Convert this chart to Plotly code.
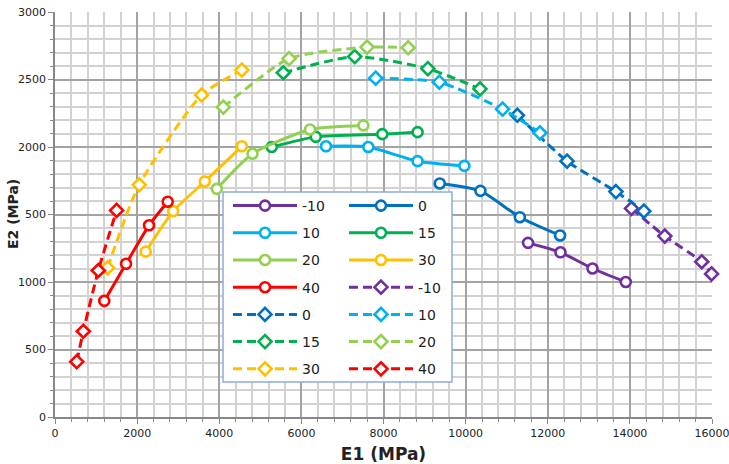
import plotly.graph_objects as go

# Series labels (temperature) and colours
labels = ["-10", "0", "10", "15", "20", "30", "40"]
colors = ["#7030A0", "#0070C0", "#00B0F0", "#00B050", "#92D050", "#FFC000", "#FF0000"]

# Solid series (circles): E1, E2 in MPa
solid_e1 = [
    [11520, 12310, 13090, 13900],
    [9370, 10360, 11320, 12300],
    [6600, 7630, 8830, 9970],
    [5280, 6350, 7970, 8830],
    [3940, 4810, 6210, 7510],
    [2210, 2880, 3650, 4550],
    [1200, 1730, 2290, 2745],
]
solid_e2 = [
    [1290, 1220, 1100, 1000],
    [1730, 1675, 1480, 1345],
    [2005, 2000, 1895, 1860],
    [2000, 2075, 2095, 2110],
    [1690, 1950, 2130, 2160],
    [1225, 1525, 1745, 2005],
    [860, 1135, 1420, 1595],
]

# Dashed series (diamonds): E1, E2 in MPa
dashed_e1 = [
    [14040, 14850, 15750, 15990],
    [11260, 12470, 13660, 14340],
    [7810, 9360, 10900, 11810],
    [5560, 7300, 9080, 10350],
    [4100, 5700, 7600, 8600],
    [1280, 2050, 3570, 4550],
    [530, 690, 1055, 1500],
]
dashed_e2 = [
    [1545, 1340, 1150, 1060],
    [2235, 1895, 1670, 1525],
    [2510, 2480, 2280, 2105],
    [2550, 2670, 2580, 2430],
    [2295, 2655, 2740, 2735],
    [1105, 1720, 2385, 2570],
    [410, 635, 1085, 1530],
]

x_ticks = list(range(0, 16001, 2000))
x_tick_text = [str(v) for v in x_ticks]
y_ticks = list(range(0, 3001, 500))
y_tick_text = [str(v) for v in y_ticks]

W, H = 729, 464
ML, MR, MT, MB = 55, 17, 12, 47
PW, PH = W - ML - MR, H - MT - MB


def px_x(p):
    return (p - ML) / PW


def px_y(p):
    return (H - MB - p) / PH


fig = go.Figure()

traces = []
for i, lab in enumerate(labels):
    traces.append(dict(x=solid_e1[i], y=solid_e2[i], name=lab, color=colors[i],
                       dash="solid", symbol="circle", key="s" + lab))
for i, lab in enumerate(labels):
    traces.append(dict(x=dashed_e1[i], y=dashed_e2[i], name=lab, color=colors[i],
                       dash="9px,5px", symbol="diamond", key="d" + lab))

# Two-column legend: alternate entries between two legends
for k, t in enumerate(traces):
    fig.add_trace(go.Scatter(
        x=t["x"], y=t["y"], name=t["name"], mode="lines+markers",
        line=dict(color=t["color"], width=3, dash=t["dash"], shape="spline", smoothing=0.6),
        marker=dict(symbol=t["symbol"], size=10, color="white",
                    line=dict(color=t["color"], width=2.6)),
        legend="legend" if k % 2 == 0 else "legend2",
        legendgroup=t["key"],
        showlegend=True,
        cliponaxis=False,
    ))

grid_major = "#a3a3a3"
grid_minor = "#d2d2d2"
tick_font = dict(family="DejaVu Sans", size=11, color="#222222")
legend_font = dict(family="DejaVu Sans", size=14, color="#222222")

fig.update_layout(
    width=W, height=H,
    margin=dict(l=ML, r=MR, t=MT, b=MB, autoexpand=False),
    paper_bgcolor="white", plot_bgcolor="white",
    xaxis=dict(
        range=[0, 16000], tickvals=x_ticks, ticktext=x_tick_text, automargin=False,
        ticklabeloverflow="allow",
        showgrid=True, gridcolor=grid_major, gridwidth=1.6,
        minor=dict(dtick=400, showgrid=True, gridcolor=grid_minor, gridwidth=1.6,
                   ticks="outside", ticklen=3, tickcolor="#888888"),
        zeroline=False, showline=True, linecolor="#888888", linewidth=1.5,
        ticks="outside", ticklen=5, tickcolor="#888888", tickfont=tick_font,
        title=dict(text="<b>E1 (MPa)</b>", font=dict(family="DejaVu Sans", size=17, color="#222222"),
                   standoff=14),
    ),
    yaxis=dict(
        range=[0, 3000], tickvals=y_ticks, ticktext=y_tick_text, automargin=False,
        ticklabeloverflow="allow",
        showgrid=True, gridcolor=grid_major, gridwidth=1.6,
        minor=dict(dtick=100, showgrid=True, gridcolor=grid_minor, gridwidth=1.6,
                   ticks="outside", ticklen=3, tickcolor="#888888"),
        zeroline=False, showline=True, linecolor="#888888", linewidth=1.5,
        ticks="outside", ticklen=5, tickcolor="#888888", tickfont=tick_font,
    ),
    legend=dict(
        x=px_x(228), y=px_y(190), xanchor="left", yanchor="top",
        bgcolor="rgba(0,0,0,0)", borderwidth=0, itemwidth=64,
        font=legend_font, tracegroupgap=6, traceorder="grouped",
    ),
    legend2=dict(
        x=px_x(344), y=px_y(190), xanchor="left", yanchor="top",
        bgcolor="rgba(0,0,0,0)", borderwidth=0, itemwidth=64,
        font=legend_font, tracegroupgap=6, traceorder="grouped",
    ),
    showlegend=True,
)

# Legend frame
fig.add_shape(type="rect", xref="paper", yref="paper",
              x0=px_x(223), x1=px_x(452), y0=px_y(382), y1=px_y(192),
              fillcolor="white", line=dict(color="#8eaadb", width=1.5), layer="above")

# Y-axis title drawn over the tick labels
fig.add_annotation(xref="paper", yref="paper", x=px_x(13), y=px_y(214),
                   xanchor="center", yanchor="middle",
                   text="<b>E2 (MPa)</b>", textangle=-90, showarrow=False,
                   font=dict(family="DejaVu Sans", size=14, color="#222222"),
                   bgcolor="white", borderpad=3)

fig.write_html("out.html")
